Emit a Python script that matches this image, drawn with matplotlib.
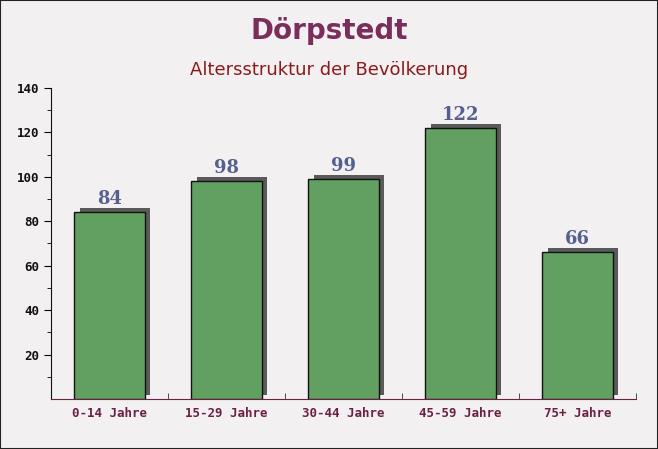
import matplotlib
matplotlib.use("Agg")
import matplotlib.pyplot as plt
import matplotlib.patheffects as pe
import numpy as np

# data
categories = ["0-14 Jahre", "15-29 Jahre", "30-44 Jahre", "45-59 Jahre", "75+ Jahre"]
values = [84, 98, 99, 122, 66]

title = "Dörpstedt"
subtitle = "Altersstruktur der Bevölkerung"

fig = plt.figure(figsize=(6.58, 4.49), dpi=100)
fig.patch.set_facecolor("#f3f0f1")

ax = fig.add_axes([0.0775, 0.1114, 0.889, 0.693])
ax.set_facecolor("none")

x = np.arange(len(categories))
bars = ax.bar(x, values, width=0.6, color="#62a062", edgecolor="#111111",
              linewidth=1.0, zorder=3)
for b in bars:
    b.set_path_effects([pe.SimplePatchShadow(offset=(4, 3), shadow_rgbFace="#5a5a5a", alpha=1.0),
                        pe.Normal()])

for xi, v in zip(x, values):
    ax.annotate(str(v), (xi, v), xytext=(0, 3), textcoords="offset points",
                ha="center", va="bottom", fontsize=13, fontweight="bold",
                family="DejaVu Serif", color="#56608f", zorder=4)

ax.set_xlim(-0.5, len(categories) - 0.5)
ax.set_ylim(0, 140)
ax.set_yticks(range(20, 141, 20))
ax.set_yticks(range(10, 141, 10), minor=True)
ax.set_xticks(x)
ax.set_xticklabels(categories)
ax.set_xticks(np.arange(0.5, len(categories), 1.0), minor=True)

ax.tick_params(axis="y", which="major", length=5, labelsize=9, labelcolor="#111111")
ax.tick_params(axis="y", which="minor", length=3)
ax.tick_params(axis="x", which="major", length=0, labelsize=9, labelcolor="#6b2045", pad=6)
ax.tick_params(axis="x", which="minor", direction="in", length=4, color="#333333")
for lab in ax.get_xticklabels() + ax.get_yticklabels():
    lab.set_family("DejaVu Sans Mono")
    lab.set_fontweight("bold")

for s in ["top", "right"]:
    ax.spines[s].set_visible(False)
ax.spines["left"].set_color("#111111")
ax.spines["bottom"].set_color("#6b2045")

fig.text(0.5, 0.93, title, ha="center", va="center", fontsize=20,
         fontweight="bold", color="#7b2d5b", family="DejaVu Sans")
fig.text(0.5, 0.845, subtitle, ha="center", va="center", fontsize=13,
         color="#8b1a1a", family="DejaVu Sans")

# thin frame round the figure
fig.add_artist(plt.Rectangle((0, 0), 1, 1, transform=fig.transFigure,
                             fill=False, edgecolor="#222222", linewidth=1.5))

fig.savefig("out.png", dpi=100, facecolor=fig.get_facecolor())
